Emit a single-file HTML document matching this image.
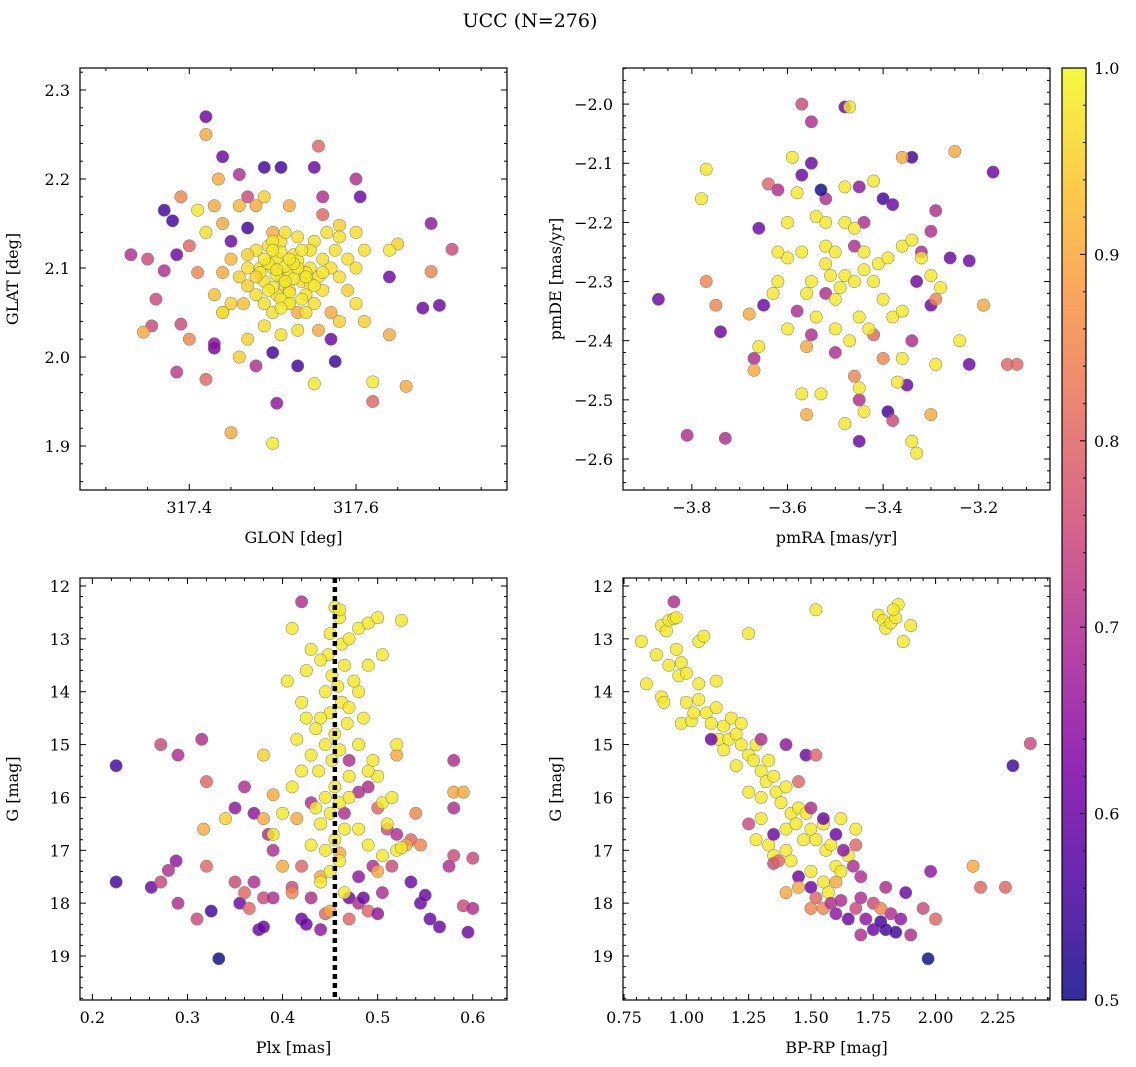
<!DOCTYPE html>
<html><head><meta charset="utf-8"><style>
body{margin:0;background:#fff;}
svg{display:block;font-family:"DejaVu Serif","Liberation Serif",serif;}
</style></head><body>
<svg id="fig" width="1136" height="1067" viewBox="0 0 1136 1067" xmlns="http://www.w3.org/2000/svg">
<text x="530" y="27" font-size="19" text-anchor="middle">UCC (N=276)</text>
<defs><linearGradient id="cbg" x1="0" y1="1" x2="0" y2="0">
<stop offset="0" stop-color="#0d0887"/><stop offset="0.125" stop-color="#4c02a1"/><stop offset="0.25" stop-color="#7e03a8"/><stop offset="0.375" stop-color="#a92395"/><stop offset="0.5" stop-color="#cc4778"/><stop offset="0.625" stop-color="#e56b5d"/><stop offset="0.75" stop-color="#f89441"/><stop offset="0.875" stop-color="#fdc328"/><stop offset="1" stop-color="#f0f921"/></linearGradient></defs>
</svg>
<script>
// ---- data (x, y, membership prob) ----
const p1Glon=[317.33,317.35,317.37,317.38,317.385,317.37,317.36,317.355,317.39,317.385,317.42,317.43,317.43,317.42,317.44,317.45,317.47,317.46,317.49,317.51,317.47,317.5,317.48,317.505,317.53,317.55,317.555,317.56,317.56,317.57,317.575,317.6,317.605,317.62,317.64,317.68,317.69,317.7,317.715,317.69,317.345,317.4,317.41,317.4,317.39,317.42,317.435,317.43,317.44,317.45,317.5,317.55,317.62,317.66,317.61,317.64,317.65,317.64,317.6,317.58,317.59,317.47,317.46,317.44,317.45,317.41,317.42,317.46,317.48,317.49,317.52,317.5,317.53,317.555,317.57,317.58,
317.5,317.51,317.52,317.53,317.515,317.49,317.505,317.525,317.535,317.54,317.48,317.47,317.545,317.555,317.56,317.57,317.58,317.495,317.51,317.53,317.55,317.49,317.5,317.52,317.54,317.55,317.47,317.46,317.44,317.45,317.48,317.515,317.565,317.575,317.59,317.6,317.6,317.53,317.51,317.49,317.52,317.505,317.56,317.545,317.485,317.465,317.43,317.44,317.58,317.61,
317.505,317.515,317.525,317.51,317.5,317.52,317.53,317.54,317.495,317.485,317.51,317.52,317.535,317.545,317.5,317.49,317.53,317.515,317.505,317.525,317.54,317.55,317.48,317.47,317.56,317.5,317.52,317.535,317.51,317.495];
const p1Glat=[2.115,2.11,2.165,2.153,2.115,2.097,2.065,2.035,2.037,1.983,1.975,2.01,2.015,2.27,2.225,2.13,2.18,2.205,2.213,2.213,2.145,2.005,1.99,1.948,1.99,2.213,2.237,2.18,2.16,2.02,1.995,2.2,2.18,1.95,2.09,2.055,2.15,2.058,2.121,2.096,2.028,2.02,2.095,2.125,2.18,2.25,2.2,2.17,2.15,1.915,1.903,1.97,1.972,1.967,2.04,2.025,2.127,2.12,2.14,2.148,2.075,2.02,2.0,2.05,2.06,2.165,2.14,2.17,2.17,2.18,2.17,2.14,2.05,2.03,2.05,2.04,
2.1,2.09,2.095,2.1,2.08,2.085,2.11,2.115,2.085,2.07,2.07,2.1,2.1,2.09,2.11,2.1,2.09,2.125,2.13,2.135,2.13,2.06,2.05,2.06,2.05,2.06,2.08,2.09,2.095,2.11,2.12,2.14,2.14,2.12,2.11,2.1,2.06,2.03,2.025,2.035,2.075,2.07,2.075,2.12,2.1,2.06,2.07,2.05,2.135,2.12,
2.092,2.102,2.088,2.118,2.078,2.072,2.108,2.095,2.105,2.095,2.065,2.06,2.12,2.082,2.13,2.11,2.1,2.085,2.098,2.105,2.09,2.08,2.09,2.115,2.095,2.12,2.11,2.065,2.055,2.075];
const p1Prob=[.7,.75,.55,.55,.6,.7,.75,.75,.75,.72,.8,.6,.65,.6,.6,.6,.75,.7,.55,.55,.55,.55,.7,.65,.55,.6,.8,.7,.8,.6,.55,.7,.6,.8,.6,.6,.65,.6,.75,.85,.9,.85,.85,.8,.85,.9,.9,.9,.9,.9,.98,.98,.98,.9,.95,.9,.95,.98,.97,.95,.95,.95,.95,.95,.95,.98,.97,.92,.9,.95,.9,.9,.9,.9,.9,.95,
.97,.97,.97,.97,.97,.97,.97,.97,.97,.97,.97,.97,.97,.97,.97,.97,.97,.97,.97,.97,.97,.97,.97,.97,.97,.97,.95,.95,.9,.92,.97,.97,.97,.97,.97,.97,.97,.97,.97,.97,.97,.97,.97,.97,.97,.93,.93,.97,.97,.97,
.98,.98,.98,.98,.98,.98,.98,.98,.98,.98,.98,.98,.98,.98,.98,.98,.98,.98,.98,.98,.98,.98,.95,.95,.98,.98,.98,.98,.98,.98];

const p2PmRA=[-3.87,-3.81,-3.73,-3.74,-3.66,-3.65,-3.67,-3.64,-3.62,-3.57,-3.55,-3.48,-3.52,-3.55,-3.57,-3.53,-3.45,-3.44,-3.4,-3.38,-3.34,-3.29,-3.3,-3.32,-3.33,-3.3,-3.26,-3.22,-3.17,-3.22,-3.14,-3.39,-3.38,-3.45,-3.45,-3.42,-3.34,-3.35,-3.5,-3.55,-3.58,-3.52,-3.46,-3.77,-3.75,-3.67,-3.68,-3.56,-3.56,-3.46,-3.3,-3.36,-3.25,-3.19,-3.12,-3.29,-3.4,
-3.77,-3.78,-3.66,-3.62,-3.6,-3.6,-3.59,-3.58,-3.54,-3.52,-3.5,-3.48,-3.46,-3.44,-3.42,-3.4,-3.38,-3.36,-3.5,-3.52,-3.55,-3.56,-3.54,-3.5,-3.47,-3.45,-3.43,-3.48,-3.46,-3.44,-3.42,-3.48,-3.47,-3.36,-3.34,-3.32,-3.3,-3.28,-3.29,-3.24,-3.36,-3.37,-3.34,-3.33,-3.44,-3.45,-3.48,-3.53,-3.57,-3.6,-3.63,-3.51,-3.49,-3.41,-3.39,-3.52,-3.57,-3.62];
const p2PmDE=[-2.33,-2.56,-2.565,-2.385,-2.21,-2.34,-2.43,-2.135,-2.145,-2.0,-2.03,-2.005,-2.16,-2.1,-2.12,-2.145,-2.14,-2.2,-2.16,-2.17,-2.09,-2.18,-2.215,-2.25,-2.3,-2.34,-2.26,-2.265,-2.115,-2.44,-2.44,-2.52,-2.535,-2.57,-2.5,-2.39,-2.4,-2.475,-2.42,-2.39,-2.35,-2.32,-2.24,-2.3,-2.34,-2.45,-2.355,-2.525,-2.41,-2.46,-2.525,-2.09,-2.08,-2.34,-2.44,-2.33,-2.43,
-2.11,-2.16,-2.41,-2.3,-2.26,-2.2,-2.09,-2.15,-2.19,-2.24,-2.25,-2.29,-2.3,-2.28,-2.3,-2.33,-2.36,-2.35,-2.33,-2.27,-2.3,-2.32,-2.36,-2.38,-2.4,-2.36,-2.38,-2.2,-2.21,-2.25,-2.13,-2.14,-2.005,-2.24,-2.23,-2.26,-2.29,-2.31,-2.44,-2.4,-2.43,-2.47,-2.57,-2.59,-2.52,-2.48,-2.54,-2.49,-2.49,-2.38,-2.32,-2.29,-2.31,-2.27,-2.26,-2.2,-2.25,-2.25];
const p2Prob=[.6,.7,.7,.6,.6,.6,.7,.8,.7,.75,.7,.6,.7,.6,.6,.5,.65,.7,.55,.6,.55,.7,.7,.7,.6,.6,.6,.6,.6,.6,.8,.55,.75,.6,.7,.8,.7,.6,.7,.7,.7,.7,.7,.85,.85,.9,.9,.9,.9,.85,.9,.9,.9,.9,.8,.85,.85,
.98,.98,.98,.98,.98,.98,.98,.98,.98,.98,.98,.98,.98,.98,.98,.98,.98,.98,.98,.98,.98,.98,.98,.98,.98,.98,.98,.98,.98,.98,.98,.98,.98,.98,.98,.98,.98,.98,.98,.98,.98,.98,.98,.98,.98,.98,.98,.98,.98,.98,.98,.98,.98,.98,.98,.98,.98,.98];

const p3Plx=[.225,.225,.262,.272,.272,.28,.29,.288,.29,.31,.315,.32,.32,.325,.333,.35,.35,.355,.36,.365,.37,.375,.38,.38,.39,.39,.385,.37,.36,.41,.42,.42,.42,.425,.43,.44,.445,.47,.47,.48,.48,.485,.49,.5,.495,.505,.51,.515,.52,.535,.535,.545,.55,.555,.565,.575,.58,.58,.58,.59,.595,.6,.6,.465,.47,.48,.43,.49,.5,
.317,.34,.38,.4,.41,.415,.38,.39,.44,.45,.46,.5,.53,.54,.545,.58,.59,.52,
.455,.46,.45,.462,.448,.44,.465,.452,.458,.445,.462,.45,.44,.468,.455,.445,.46,.452,.438,.47,.455,.445,.46,.45,.44,.465,.455,.445,.46,.45,.44,.465,.48,.49,.5,.505,.49,.48,.485,.48,.495,.5,.505,.51,.515,.52,.525,.43,.425,.42,.41,.405,.415,.42,.41,.4,.39,.43,.425,.475,.47,.48,.49,.52,.505,.49,.46,.47,.47,.43,.435,.435,.525];
const p3G=[15.4,17.6,17.7,15,17.6,17.38,15.2,17.2,18,18.3,14.9,15.7,17.3,18.15,19.05,16.2,17.6,18.0,17.8,18.1,17.6,18.5,18.45,17.9,17.9,17,16.7,16.3,15.8,17.7,12.3,17.3,18.3,18.4,17.9,18.5,18.2,18.3,17.9,17.5,18,17.9,18.15,18.2,17.3,17.8,16.6,17.3,16.7,16.8,17.6,18.0,17.85,18.3,18.45,17.3,17.1,16.2,15.3,18.05,18.55,17.15,18.1,16.3,15.3,15.9,16.1,15.8,16.2,
16.6,16.4,16.4,17.3,17.8,16.4,15.2,15.95,17.5,18.15,17.05,17.4,16.9,16.3,16.9,15.9,15.9,15.2,
12.4,12.6,12.9,13.1,13.3,13.4,13.5,13.7,13.9,14.0,14.2,14.4,14.5,14.6,14.8,15.0,15.1,15.3,15.5,15.6,15.8,16.0,16.1,16.3,16.5,16.6,16.8,17.0,17.2,17.4,17.6,17.8,12.8,12.7,12.6,13.3,13.5,14.0,14.5,15.0,15.3,15.6,16.1,16.5,16.0,15.0,12.65,13.2,13.6,14.2,12.8,13.8,14.9,15.5,15.8,16.3,16.7,16.9,14.5,13.8,14.3,16.6,16.9,17.0,17.1,15.5,12.45,13.0,16.0,15.2,14.7,16.2,16.95];
const p3Prob=[.55,.55,.6,.75,.75,.7,.7,.65,.7,.75,.7,.8,.8,.55,.5,.65,.75,.6,.8,.8,.7,.6,.6,.75,.7,.7,.7,.65,.7,.75,.7,.8,.6,.6,.7,.65,.8,.8,.6,.65,.7,.6,.8,.65,.7,.7,.75,.75,.7,.8,.6,.6,.6,.6,.6,.7,.75,.7,.7,.75,.6,.75,.7,.7,.7,.7,.7,.7,.8,
.9,.95,.9,.9,.85,.9,.95,.9,.9,.9,.9,.9,.9,.85,.85,.9,.9,.9,
.98,.98,.98,.98,.98,.98,.98,.98,.98,.98,.98,.98,.98,.98,.98,.98,.98,.98,.98,.98,.98,.98,.98,.98,.98,.98,.98,.98,.98,.98,.98,.98,.98,.98,.98,.98,.98,.98,.98,.98,.98,.98,.98,.98,.98,.98,.98,.98,.98,.98,.98,.98,.98,.98,.98,.98,.98,.98,.98,.98,.98,.98,.98,.98,.98,.98,.98,.98,.98,.98,.98,.98,.98];

const p4BpRp=[2.31,2.38,1.52,1.97,0.95,
0.82,0.84,0.88,0.9,0.92,0.93,0.95,0.96,0.9,0.91,0.93,0.96,0.97,0.98,1.0,1.0,0.98,1.02,1.03,1.05,1.05,1.07,1.05,1.08,1.1,1.12,1.12,1.13,1.15,1.17,1.18,1.2,1.22,1.22,1.25,1.25,1.27,1.28,1.3,1.32,1.3,1.33,1.35,1.36,1.38,1.4,1.42,1.4,1.44,1.45,1.47,1.48,1.5,1.52,1.55,1.56,1.58,1.6,1.62,1.65,1.3,1.28,1.33,1.35,1.4,1.42,1.5,1.55,1.25,1.15,1.2,1.77,1.79,1.8,1.82,1.84,1.85,1.9,1.87,1.83,1.62,1.68,1.57,
1.35,1.45,1.5,1.52,1.55,1.58,1.6,1.62,1.65,1.68,1.7,1.72,1.75,1.78,1.8,1.82,1.84,1.86,1.88,1.75,1.8,1.7,1.67,1.63,1.68,1.6,1.55,1.5,1.45,1.48,1.52,1.4,1.3,1.35,1.1,1.25,1.37,1.9,1.95,1.98,2.0,2.15,2.18,2.28,1.5,1.45,1.6,1.7,1.78,1.4];
const p4G=[15.4,14.98,12.45,19.05,12.3,
13.05,13.85,13.3,12.75,12.85,12.65,12.62,12.6,14.1,14.2,13.5,13.2,13.7,13.45,13.65,14.2,14.6,14.55,14.4,14.15,13.05,12.95,13.85,14.4,14.6,13.8,14.3,14.9,14.65,14.9,14.5,14.8,15.0,14.6,12.9,15.2,15.3,15.0,15.5,15.7,16.0,15.3,15.6,15.9,16.1,15.8,16.3,16.6,16.5,16.2,16.8,16.3,16.6,16.8,16.5,17.0,16.9,17.3,17.4,17.1,16.4,16.8,16.9,17.1,17.0,17.2,17.4,17.6,15.9,15.1,15.4,12.55,12.65,12.8,12.7,12.6,12.35,12.75,13.05,12.45,16.4,16.6,17.8,
17.25,17.5,17.7,17.9,18.1,18.0,18.2,17.95,18.3,18.1,17.9,18.3,18.5,18.35,18.5,18.2,18.55,18.3,17.8,18.0,17.7,17.5,17.3,17.0,16.9,16.7,16.4,16.2,15.7,15.2,15.2,15.0,14.9,16.7,14.9,16.5,17.2,18.6,18.1,17.4,18.3,17.3,17.7,17.7,18.1,17.7,17.6,18.6,18.1,17.8];
const p4Prob=[.55,.75,.98,.5,.7,
.98,.98,.98,.98,.98,.98,.98,.98,.98,.98,.98,.98,.98,.98,.98,.98,.98,.98,.98,.98,.98,.98,.98,.98,.98,.98,.98,.98,.98,.98,.98,.98,.98,.98,.98,.98,.98,.98,.98,.98,.98,.98,.98,.98,.98,.98,.98,.98,.98,.98,.98,.98,.98,.98,.98,.98,.98,.98,.98,.98,.98,.98,.98,.98,.98,.98,.98,.98,.98,.98,.98,.98,.98,.98,.98,.98,.98,.98,.98,.98,.98,.98,.98,
.75,.6,.6,.8,.85,.7,.65,.7,.6,.75,.7,.65,.6,.55,.55,.7,.55,.65,.6,.75,.7,.7,.7,.65,.8,.6,.6,.7,.8,.6,.8,.65,.7,.6,.6,.75,.8,.7,.75,.65,.8,.9,.8,.8,.85,.9,.9,.7,.85,.9];

const plxLine=0.455;
const cbTicks=[0.5,0.6,0.7,0.8,0.9,1.0];

// ---- rendering ----
const NS='http://www.w3.org/2000/svg';
const svg=document.getElementById('fig');
const stops=[[13,8,135],[76,2,161],[126,3,168],[169,35,149],[204,71,120],[229,107,93],[248,148,65],[253,195,40],[240,249,33]];
function cmap(p){let t=Math.max(0,Math.min(1,(p-0.5)/0.5))*8;let i=Math.min(7,Math.floor(t)),f=t-i;const a=stops[i],b=stops[i+1];return 'rgb('+a.map((v,k)=>Math.round(v+(b[k]-v)*f)).join(',')+')';}
function mk(tag,attrs,parent){const e=document.createElementNS(NS,tag);for(const k in attrs)e.setAttribute(k,attrs[k]);(parent||svg).appendChild(e);return e;}
function fmt(v,d){return (v<0?'\u2212':'')+Math.abs(v).toFixed(d);}

function panel(name,box,xl,yl,xMaj,xMin,yMaj,yMin,xd,yd,xlab,ylab,xs,ys,ps){
  const [L,T,R,B]=box;
  const g=mk('g',{});
  
  
  const X=v=>L+(v-xl[0])/(xl[1]-xl[0])*(R-L);
  const Y=v=>T+(v-yl[0])/(yl[1]-yl[0])*(B-T);
  const clip='clip-'+name;
  const cp=mk('clipPath',{id:clip},g);mk('rect',{x:L,y:T,width:R-L,height:B-T},cp);
  const pg=mk('g',{'clip-path':'url(#'+clip+')'},g);
  for(let i=0;i<xs.length;i++){
    const c=mk('circle',{cx:X(xs[i]).toFixed(1),cy:Y(ys[i]).toFixed(1),r:6.2,fill:cmap(ps[i]),'fill-opacity':0.82,stroke:'#777','stroke-width':0.5},pg);
    
    
  }
  g.pg=pg;g.X=X;g.Y=Y;
  mk('rect',{x:L,y:T,width:R-L,height:B-T,fill:'none',stroke:'#000','stroke-width':1.2},g);
  const lo=Math.min(xl[0],xl[1]),hi=Math.max(xl[0],xl[1]);
  for(let k=Math.ceil(lo/xMin-1e-6);k*xMin<=hi+1e-9;k++){
    const v=k*xMin;
    const x=X(v);const major=Math.abs(v/xMaj-Math.round(v/xMaj))<1e-4;const len=major?6:3;
    mk('line',{x1:x,y1:B,x2:x,y2:B-len,stroke:'#000','stroke-width':1},g);
    mk('line',{x1:x,y1:T,x2:x,y2:T+len,stroke:'#000','stroke-width':1},g);
    if(major){const t=mk('text',{x:x,y:B+23,'font-size':16,'text-anchor':'middle'},g);t.textContent=fmt(v,xd);
      }
  }
  const ylo=Math.min(yl[0],yl[1]),yhi=Math.max(yl[0],yl[1]);
  for(let k=Math.ceil(ylo/yMin-1e-6);k*yMin<=yhi+1e-9;k++){
    const v=k*yMin;
    const y=Y(v);const major=Math.abs(v/yMaj-Math.round(v/yMaj))<1e-4;const len=major?6:3;
    mk('line',{x1:L,y1:y,x2:L+len,y2:y,stroke:'#000','stroke-width':1},g);
    mk('line',{x1:R,y1:y,x2:R-len,y2:y,stroke:'#000','stroke-width':1},g);
    if(major){const t=mk('text',{x:L-10,y:y+6,'font-size':16,'text-anchor':'end'},g);t.textContent=fmt(v,yd);
      }
  }
  const xt=mk('text',{x:(L+R)/2,y:B+53,'font-size':16,'text-anchor':'middle'},g);xt.textContent=xlab;
  
  const yt=mk('text',{x:0,y:0,'font-size':16,'text-anchor':'middle',transform:'translate('+(L-62)+','+((T+B)/2)+') rotate(-90)'},g);yt.textContent=ylab;
  
  return g;
}
panel('glon-glat-panel',[80,68,507,490],[317.269,317.781],[2.3247,1.8506],0.2,0.05,0.1,0.02,1,1,'GLON [deg]','GLAT [deg]',p1Glon,p1Glat,p1Prob);
panel('pm-panel',[623,68,1050,490],[-3.944,-3.051],[-1.939,-2.6524],0.2,0.05,0.1,0.02,1,1,'pmRA [mas/yr]','pmDE [mas/yr]',p2PmRA,p2PmDE,p2Prob);
const g3=panel('plx-g-panel',[80,578,507,1000],[0.187,0.636],[11.849,19.832],0.1,0.02,1,0.2,1,0,'Plx [mas]','G [mag]',p3Plx,p3G,p3Prob);
const vl=mk('line',{x1:g3.X(plxLine),y1:578,x2:g3.X(plxLine),y2:1000,stroke:'#000','stroke-width':4.5,'stroke-dasharray':'5,4'},g3.pg);


panel('cmd-panel',[623,578,1050,1000],[0.746,2.459],[11.849,19.832],0.25,0.05,1,0.2,2,0,'BP-RP [mag]','G [mag]',p4BpRp,p4G,p4Prob);

// colorbar
const cb=mk('g',{});


mk('rect',{x:1062,y:68,width:24,height:932,fill:'url(#cbg)','fill-opacity':0.85},cb);
mk('rect',{x:1062,y:68,width:24,height:932,fill:'none',stroke:'#000','stroke-width':1.2},cb);
const CY=v=>1000-(v-0.5)/0.5*932;
for(let k=25;k<=50;k++){const v=k*0.02;const y=CY(v);const major=(k%5===0);
  mk('line',{x1:1086,y1:y,x2:1086-(major?6:3),y2:y,stroke:'#000','stroke-width':1},cb);}
cbTicks.forEach(v=>{const t=mk('text',{x:1094,y:CY(v)+6,'font-size':16},cb);t.textContent=v.toFixed(1);
  
  });
</script>
</body></html>
